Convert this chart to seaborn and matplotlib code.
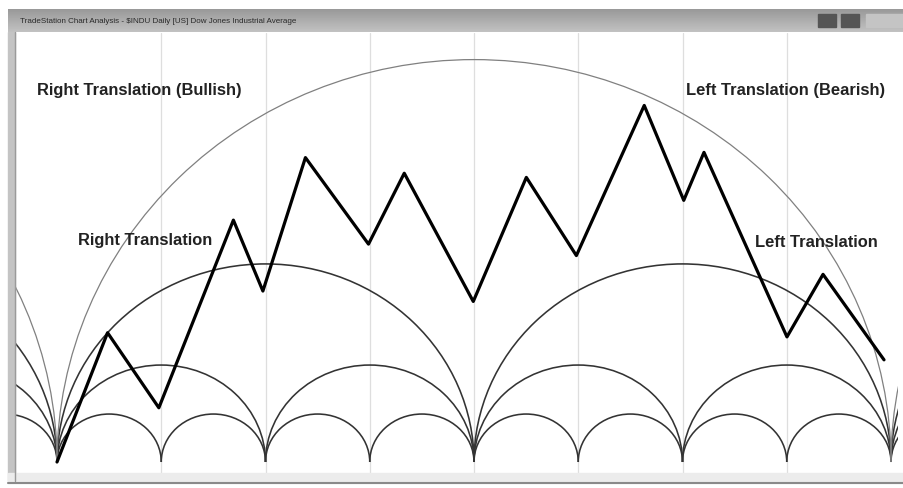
import numpy as np
import pandas as pd
import matplotlib
matplotlib.use("Agg")
import matplotlib.pyplot as plt
from matplotlib.patches import Arc, Rectangle
import seaborn as sns

# cycle arcs: span in cycles and height of each nesting level
cycle_spans = [1, 2, 4, 8]
cycle_heights = [0.46, 0.93, 1.90, 3.86]
cycle_colors = ['#333333', '#333333', '#333333', '#808080']
cycle_widths = [1.15, 1.15, 1.15, 0.9]

# price swing (x in cycles, y in arc units)
swing_x = [0, 0.485, 0.977, 1.692, 1.975, 2.383, 2.988, 3.331, 3.993,
           4.502, 4.982, 5.633, 6.012, 6.206, 7.002, 7.348, 7.933]
swing_y = [0, 1.24, 0.52, 2.32, 1.64, 2.92, 2.09, 2.77, 1.54,
           2.73, 1.98, 3.42, 2.51, 2.97, 1.20, 1.80, 0.98]

grid_x = [1, 2, 3, 4, 5, 6, 7]

labels = ['Right Translation (Bullish)', 'Right Translation',
          'Left Translation (Bearish)', 'Left Translation']
label_pos = [(37, 90), (78, 240), (686, 90), (755, 243)]

title = 'TradeStation Chart Analysis - $INDU Daily [US] Dow Jones Industrial Average'

sns.set_style('white')
plt.rcParams['font.family'] = ['Liberation Sans', 'DejaVu Sans']

W, H = 904, 489
fig = plt.figure(figsize=(W / 100, H / 100), dpi=100)


def fx(px):
    return px / W


def fy(py):
    return 1 - py / H


# main chart area
ax = fig.add_axes([fx(15), fy(482), fx(898) - fx(15), fy(34) - fy(482)])
u = 104.25
ax.set_xlim((15 - 57) / u, (898 - 57) / u)
ax.set_ylim(-(482 - 463) / u, (463 - 34) / u)
ax.axis('off')

for gx in grid_x:
    ax.axvline(gx, color='#dedede', lw=0.9, zorder=1)

for span, h, c, lw in zip(cycle_spans, cycle_heights, cycle_colors, cycle_widths):
    for start in range(-span, 8 + span, span):
        ax.add_patch(Arc((start + span / 2, 0), span, 2 * h, theta1=0, theta2=180,
                         color=c, lw=lw, zorder=2))

df = pd.DataFrame({'x': swing_x, 'y': swing_y})
sns.lineplot(data=df, x='x', y='y', sort=False, color='black', lw=2.3, ax=ax, zorder=3)
ax.axis('off')

for txt, (px, py) in zip(labels, label_pos):
    fig.text(fx(px), fy(py), txt, fontsize=11.9, fontweight='bold', color='#222222',
             ha='left', va='center')

# title bar
tb = fig.add_axes([fx(8), fy(33), fx(904) - fx(8), fy(10) - fy(33)])
grad = np.linspace(0.6, 0.76, 50).reshape(-1, 1)
tb.imshow(grad, aspect='auto', cmap='gray', vmin=0, vmax=1, extent=[0, 1, 0, 1])
tb.set_xlim(0, 1)
tb.set_ylim(0, 1)
tb.axis('off')
tb.text(0.013, 0.5, title, fontsize=5.8, color='#2a2a2a', va='center', ha='left')
for bx, bw, bc in [(818, 18, '#555555'), (841, 18, '#555555'), (866, 38, '#c4c4c4')]:
    tb.add_patch(Rectangle(((bx - 8) / 896, 0.22), bw / 896, 0.56, color=bc))

# window frame
fig.add_artist(Rectangle((fx(8), fy(482)), fx(7), fy(33) - fy(482), color='#c4c4c4',
                         transform=fig.transFigure))
fig.add_artist(plt.Line2D([fx(15), fx(15)], [fy(482), fy(33)], color='#9a9a9a', lw=1,
                          transform=fig.transFigure))
fig.add_artist(Rectangle((fx(8), fy(484)), fx(896), fy(474) - fy(484), color='#ececec',
                         transform=fig.transFigure))
fig.add_artist(plt.Line2D([fx(8), 1], [fy(484), fy(484)], color='#8a8a8a', lw=1.5,
                          transform=fig.transFigure))

fig.savefig('out.png', dpi=100, facecolor='white')
